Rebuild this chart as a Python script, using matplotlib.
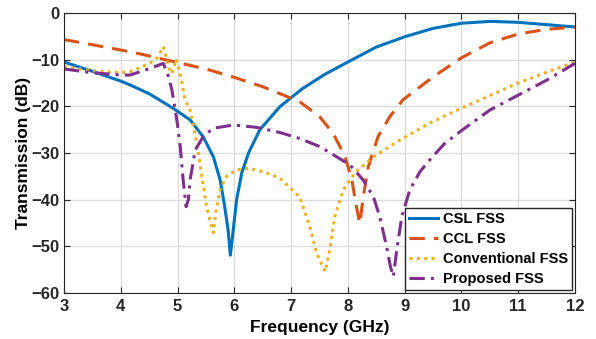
import matplotlib.pyplot as plt
import numpy as np

plt.rcParams['font.family'] = ['Liberation Sans', 'DejaVu Sans']
plt.rcParams['font.weight'] = 'bold'

# CSL FSS
csl_f = [3, 3.5, 4, 4.16, 4.5, 4.92, 5.22, 5.45, 5.63, 5.75, 5.83, 5.89, 5.93, 5.98,
         6.04, 6.13, 6.25, 6.45, 6.8, 7.2, 7.6, 8, 8.5, 9, 9.5, 10, 10.5, 11, 11.5, 12]
csl_db = [-10.5, -12.5, -14.6, -15.4, -17.3, -20.4, -22.9, -26.5, -30.8, -35.8, -41.5,
          -46.5, -51.9, -46.5, -40, -34.3, -30, -25, -20.1, -16.2, -13.1, -10.5, -7.3,
          -5.1, -3.3, -2.2, -1.8, -2.0, -2.5, -3.0]

# CCL FSS
ccl_f = [3, 3.5, 4.16, 4.5, 4.92, 5.5, 5.75, 6, 6.5, 7.15, 7.5, 7.74, 7.95, 8.07, 8.15,
         8.21, 8.27, 8.36, 8.53, 8.74, 8.97, 9.5, 10, 10.5, 11, 11.5, 12]
ccl_db = [-5.7, -6.8, -8.3, -9.2, -10.4, -12.0, -12.9, -13.8, -15.8, -19, -22.2, -25.8,
          -30.8, -35.8, -41.5, -45.1, -39.4, -32.9, -26.5, -22.2, -18.6, -13.7, -9.6,
          -6.4, -4.5, -3.5, -3.0]

# Conventional FSS
conv_f = [3, 3.5, 4, 4.16, 4.51, 4.65, 4.75, 4.85, 4.9, 4.98, 5.07, 5.13, 5.22, 5.34,
          5.42, 5.51, 5.6, 5.63, 5.67, 5.75, 5.86, 6.04, 6.25, 6.51, 6.8, 7.15, 7.33,
          7.45, 7.6, 7.68, 7.77, 7.92, 8.12, 8.45, 8.92, 9.44, 10, 10.5, 11, 11.5, 12]
conv_db = [-11.5, -12.4, -12.8, -12.6, -10.8, -9.5, -7.2, -11.9, -13.0, -9.9, -14.4,
           -18.6, -20.8, -27.9, -34.3, -41.5, -45.8, -47.1, -42.9, -37.9, -35, -33.6,
           -33.3, -34, -35.4, -39.4, -45.8, -51.5, -55.4, -50.8, -43.6, -37.9, -34.3,
           -30.8, -27.2, -23.6, -20.4, -17.7, -15, -12.7, -10.5]

# Proposed FSS
prop_f = [3, 3.5, 4, 4.16, 4.51, 4.75, 4.84, 4.9, 4.95, 5.0, 5.05, 5.1, 5.15, 5.19,
          5.22, 5.31, 5.45, 5.63, 5.98, 6.39, 6.8, 7.15, 7.5, 7.8, 8.04, 8.27, 8.45,
          8.56, 8.68, 8.75, 8.8, 8.86, 8.95, 9.09, 9.27, 9.44, 9.7, 10, 10.5, 11, 11.5, 12]
prop_db = [-12, -12.8, -13.3, -13.3, -11.9, -10.8, -13.6, -16.5, -20.1, -24, -29, -36,
           -41.5, -40, -35.8, -29.4, -26.5, -24.7, -24, -24.5, -25.6, -26.9, -28.6,
           -30.8, -32.6, -35.8, -39.4, -43.6, -50, -54.4, -56.5, -50.8, -43.6, -37.9,
           -34, -31.5, -28, -25.2, -20.8, -17.6, -14.4, -10.8]

fig = plt.figure(figsize=(5.96, 3.39), dpi=100)
ax = fig.add_axes([0.1074, 0.1357, 0.8574, 0.826])

ax.plot(csl_f, csl_db, color='#0072BD', lw=2.2, label='CSL FSS')
ax.plot(ccl_f, ccl_db, color='#D95319', lw=2.2, dashes=(5, 3), label='CCL FSS')
ax.plot(conv_f, conv_db, color='#EDB120', lw=2.2, dashes=(1, 1.4), label='Conventional FSS')
ax.plot(prop_f, prop_db, color='#7E2F8E', lw=2.2, dashes=(5, 2, 1, 2), label='Proposed FSS')

ax.set_xlim(3, 12)
ax.set_ylim(-60, 0)
ax.set_xticks(np.arange(3, 13, 1))
ax.set_yticks(np.arange(-60, 1, 10))
ax.grid(color='#dcdcdc', linewidth=1)
ax.tick_params(direction='in', top=True, right=True, labelsize=12, colors='#262626', length=4)
ax.tick_params(axis='x', pad=4.5)
ax.tick_params(axis='y', pad=3.5)
for lab in ax.get_xticklabels() + ax.get_yticklabels():
    lab.set_fontweight('bold')
for s in ax.spines.values():
    s.set_color('#262626')
ax.set_xlabel('Frequency (GHz)', fontsize=12.5, fontweight='bold', labelpad=4)
ax.set_ylabel('Transmission (dB)', fontsize=12.5, fontweight='bold', labelpad=0)

leg = ax.legend(loc='lower right', prop={'size': 10.5, 'weight': 'bold'}, handlelength=2.0,
                handletextpad=0.3, borderpad=0.3, labelspacing=0.4, fancybox=False,
                framealpha=1, borderaxespad=0.2)
leg.get_frame().set_edgecolor('#262626')
leg.get_frame().set_linewidth(1)

fig.savefig('out.png', dpi=100)
